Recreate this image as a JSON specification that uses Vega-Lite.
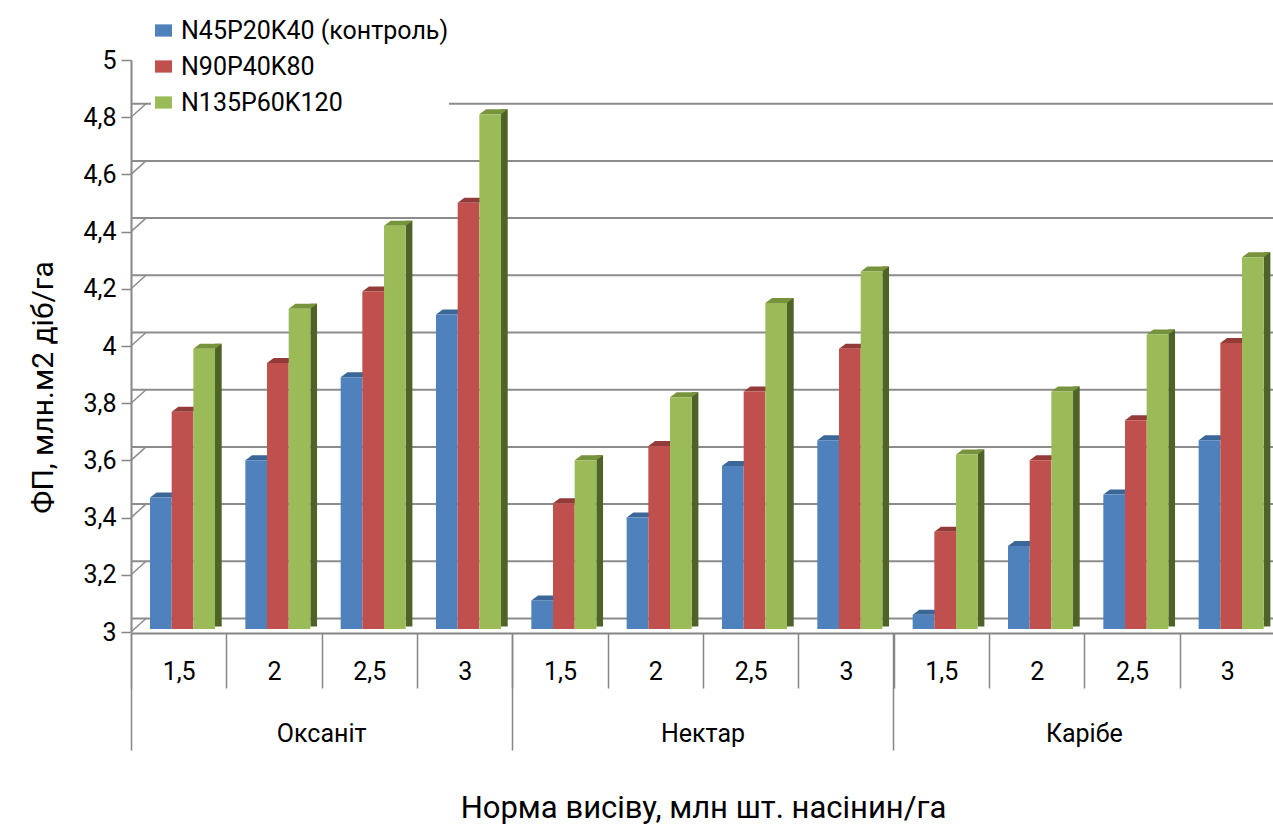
{
  "$schema": "https://vega.github.io/schema/vega-lite/v6.json",
  "width": 1144,
  "height": 572,
  "autosize": {"type": "none"},
  "padding": {"left": 131, "top": 60, "right": 0, "bottom": 207},
  "background": "white",
  "datasets": {
    "fp": [
      {"variety": "Оксаніт", "rate": "1,5", "cell": "Оксаніт|1,5", "series": "N45P20K40 (контроль)", "value": 3.46},
      {"variety": "Оксаніт", "rate": "1,5", "cell": "Оксаніт|1,5", "series": "N90P40K80", "value": 3.76},
      {"variety": "Оксаніт", "rate": "1,5", "cell": "Оксаніт|1,5", "series": "N135P60K120", "value": 3.98},
      {"variety": "Оксаніт", "rate": "2", "cell": "Оксаніт|2", "series": "N45P20K40 (контроль)", "value": 3.59},
      {"variety": "Оксаніт", "rate": "2", "cell": "Оксаніт|2", "series": "N90P40K80", "value": 3.93},
      {"variety": "Оксаніт", "rate": "2", "cell": "Оксаніт|2", "series": "N135P60K120", "value": 4.12},
      {"variety": "Оксаніт", "rate": "2,5", "cell": "Оксаніт|2,5", "series": "N45P20K40 (контроль)", "value": 3.88},
      {"variety": "Оксаніт", "rate": "2,5", "cell": "Оксаніт|2,5", "series": "N90P40K80", "value": 4.18},
      {"variety": "Оксаніт", "rate": "2,5", "cell": "Оксаніт|2,5", "series": "N135P60K120", "value": 4.41},
      {"variety": "Оксаніт", "rate": "3", "cell": "Оксаніт|3", "series": "N45P20K40 (контроль)", "value": 4.10},
      {"variety": "Оксаніт", "rate": "3", "cell": "Оксаніт|3", "series": "N90P40K80", "value": 4.49},
      {"variety": "Оксаніт", "rate": "3", "cell": "Оксаніт|3", "series": "N135P60K120", "value": 4.80},
      {"variety": "Нектар", "rate": "1,5", "cell": "Нектар|1,5", "series": "N45P20K40 (контроль)", "value": 3.10},
      {"variety": "Нектар", "rate": "1,5", "cell": "Нектар|1,5", "series": "N90P40K80", "value": 3.44},
      {"variety": "Нектар", "rate": "1,5", "cell": "Нектар|1,5", "series": "N135P60K120", "value": 3.59},
      {"variety": "Нектар", "rate": "2", "cell": "Нектар|2", "series": "N45P20K40 (контроль)", "value": 3.39},
      {"variety": "Нектар", "rate": "2", "cell": "Нектар|2", "series": "N90P40K80", "value": 3.64},
      {"variety": "Нектар", "rate": "2", "cell": "Нектар|2", "series": "N135P60K120", "value": 3.81},
      {"variety": "Нектар", "rate": "2,5", "cell": "Нектар|2,5", "series": "N45P20K40 (контроль)", "value": 3.57},
      {"variety": "Нектар", "rate": "2,5", "cell": "Нектар|2,5", "series": "N90P40K80", "value": 3.83},
      {"variety": "Нектар", "rate": "2,5", "cell": "Нектар|2,5", "series": "N135P60K120", "value": 4.14},
      {"variety": "Нектар", "rate": "3", "cell": "Нектар|3", "series": "N45P20K40 (контроль)", "value": 3.66},
      {"variety": "Нектар", "rate": "3", "cell": "Нектар|3", "series": "N90P40K80", "value": 3.98},
      {"variety": "Нектар", "rate": "3", "cell": "Нектар|3", "series": "N135P60K120", "value": 4.25},
      {"variety": "Карібе", "rate": "1,5", "cell": "Карібе|1,5", "series": "N45P20K40 (контроль)", "value": 3.05},
      {"variety": "Карібе", "rate": "1,5", "cell": "Карібе|1,5", "series": "N90P40K80", "value": 3.34},
      {"variety": "Карібе", "rate": "1,5", "cell": "Карібе|1,5", "series": "N135P60K120", "value": 3.61},
      {"variety": "Карібе", "rate": "2", "cell": "Карібе|2", "series": "N45P20K40 (контроль)", "value": 3.29},
      {"variety": "Карібе", "rate": "2", "cell": "Карібе|2", "series": "N90P40K80", "value": 3.59},
      {"variety": "Карібе", "rate": "2", "cell": "Карібе|2", "series": "N135P60K120", "value": 3.83},
      {"variety": "Карібе", "rate": "2,5", "cell": "Карібе|2,5", "series": "N45P20K40 (контроль)", "value": 3.47},
      {"variety": "Карібе", "rate": "2,5", "cell": "Карібе|2,5", "series": "N90P40K80", "value": 3.73},
      {"variety": "Карібе", "rate": "2,5", "cell": "Карібе|2,5", "series": "N135P60K120", "value": 4.03},
      {"variety": "Карібе", "rate": "3", "cell": "Карібе|3", "series": "N45P20K40 (контроль)", "value": 3.66},
      {"variety": "Карібе", "rate": "3", "cell": "Карібе|3", "series": "N90P40K80", "value": 4.00},
      {"variety": "Карібе", "rate": "3", "cell": "Карібе|3", "series": "N135P60K120", "value": 4.30}
    ],
    "levels": [
      {"level": 3}, {"level": 3.2}, {"level": 3.4}, {"level": 3.6}, {"level": 3.8},
      {"level": 4}, {"level": 4.2}, {"level": 4.4}, {"level": 4.6}, {"level": 4.8}
    ]
  },
  "config": {
    "font": "Roboto",
    "view": {"stroke": null},
    "axis": {
      "labelFont": "Roboto",
      "labelFontSize": 25,
      "labelColor": "#000000",
      "titleFont": "Roboto",
      "titleFontWeight": "normal",
      "titleColor": "#000000",
      "domainColor": "#868686",
      "tickColor": "#868686",
      "domainWidth": 2,
      "tickWidth": 1.5,
      "grid": false
    }
  },
  "resolve": {"axis": {"x": "independent", "y": "independent"}, "scale": {"fill": "independent"}},
  "layer": [
    {
      "data": {"name": "levels"},
      "mark": {"type": "rule", "color": "#8C8C8C", "strokeWidth": 2, "xOffset": 15, "x2Offset": 15, "yOffset": -13.5},
      "encoding": {
        "y": {
          "field": "level",
          "type": "quantitative",
          "scale": {"domain": [3, 5], "nice": false, "zero": false},
          "axis": {
            "orient": "left",
            "values": [3, 3.2, 3.4, 3.6, 3.8, 4, 4.2, 4.4, 4.6, 4.8, 5],
            "labelExpr": "replace(toString(datum.value), '.', ',')",
            "tickSize": 10,
            "labelPadding": 5,
            "title": "ФП, млн.м2 діб/га",
            "titleFontSize": 30,
            "titleAngle": -90,
            "titleX": -88,
            "titleY": 327,
            "titleAlign": "center",
            "titleBaseline": "middle"
          }
        }
      }
    },
    {
      "data": {"name": "levels"},
      "mark": {"type": "rule", "color": "#8C8C8C", "strokeWidth": 1.5, "x2Offset": 15, "y2Offset": -13.5},
      "encoding": {
        "x": {
          "datum": "Оксаніт|1,5",
          "type": "nominal",
          "bandPosition": 0,
          "scale": {
            "domain": ["Оксаніт|1,5", "Оксаніт|2", "Оксаніт|2,5", "Оксаніт|3", "Нектар|1,5", "Нектар|2", "Нектар|2,5", "Нектар|3", "Карібе|1,5", "Карібе|2", "Карібе|2,5", "Карібе|3"],
            "paddingInner": 0,
            "paddingOuter": 0
          },
          "axis": {
            "orient": "bottom",
            "offset": 1,
            "values": ["Оксаніт|1,5", "Нектар|1,5", "Карібе|1,5"],
            "bandPosition": 0,
            "tickSize": 117,
            "domain": false,
            "labelExpr": "split(datum.label, '|')[0]",
            "labelOffset": 143,
            "labelPadding": -17,
            "labelBaseline": "middle",
            "labelAngle": 0,
            "labelOverlap": false,
            "labelBound": false,
            "labelFlush": false,
            "title": null
          }
        },
        "x2": {"datum": "Оксаніт|1,5", "bandPosition": 0},
        "y": {"field": "level", "type": "quantitative", "axis": null},
        "y2": {"field": "level"}
      }
    },
    {
      "data": {"name": "fp"},
      "transform": [{"filter": "datum.series === 'N135P60K120'"}],
      "mark": {"type": "bar", "color": "#4F6228", "width": 6.7, "xOffset": 39.7, "yOffset": -8, "y2Offset": -5.5},
      "encoding": {
        "x": {"field": "cell", "type": "nominal", "axis": null},
        "y": {"field": "value", "type": "quantitative", "axis": null},
        "y2": {"datum": 3}
      }
    },
    {
      "data": {"name": "fp"},
      "mark": {
        "type": "point",
        "shape": "M-0.7227,0L0.7227,0L1.1694,-0.3333L-0.276,-0.3333Z",
        "size": 900,
        "filled": true,
        "opacity": 1,
        "strokeWidth": 0,
        "yOffset": -3
      },
      "encoding": {
        "x": {"field": "cell", "type": "nominal", "axis": null},
        "xOffset": {
          "field": "series",
          "type": "nominal",
          "sort": ["N45P20K40 (контроль)", "N90P40K80", "N135P60K120"],
          "scale": {"paddingInner": 0, "paddingOuter": 0.699, "align": 0.627}
        },
        "y": {"field": "value", "type": "quantitative", "axis": null},
        "fill": {
          "field": "series",
          "type": "nominal",
          "scale": {
            "domain": ["N45P20K40 (контроль)", "N90P40K80", "N135P60K120"],
            "range": ["#3A6798", "#923B39", "#77933C"]
          },
          "legend": null
        }
      }
    },
    {
      "data": {"name": "fp"},
      "mark": {"type": "bar", "yOffset": -3, "y2Offset": -3},
      "encoding": {
        "x": {
          "field": "cell",
          "type": "nominal",
          "axis": {
            "orient": "bottom",
            "offset": 1,
            "tickBand": "extent",
            "tickSize": 55,
            "labelExpr": "split(datum.label, '|')[1]",
            "labelPadding": -17,
            "labelBaseline": "middle",
            "labelAngle": 0,
            "labelOverlap": false,
            "labelBound": false,
            "labelFlush": false,
            "title": "Норма висіву, млн шт. насінин/га",
            "titleFontSize": 31,
            "titleX": 572,
            "titleY": 175,
            "titleAlign": "center",
            "titleBaseline": "middle"
          }
        },
        "xOffset": {
          "field": "series",
          "type": "nominal",
          "sort": ["N45P20K40 (контроль)", "N90P40K80", "N135P60K120"],
          "scale": {"paddingInner": 0, "paddingOuter": 0.699, "align": 0.627}
        },
        "y": {"field": "value", "type": "quantitative", "axis": null},
        "y2": {"datum": 3},
        "color": {
          "field": "series",
          "type": "nominal",
          "scale": {
            "domain": ["N45P20K40 (контроль)", "N90P40K80", "N135P60K120"],
            "range": ["#4F81BD", "#C0504D", "#9BBB59"]
          },
          "legend": {
            "orient": "none",
            "legendX": 20,
            "legendY": -42,
            "title": null,
            "symbolType": "M-1,-0.72H1V0.72H-1Z",
            "symbolSize": 289,
            "symbolStrokeWidth": 0,
            "labelFont": "Roboto",
            "labelFontSize": 25,
            "labelColor": "#000000",
            "labelLimit": 500,
            "labelOffset": 5,
            "rowPadding": 10,
            "padding": 0,
            "fillColor": "white"
          }
        }
      }
    }
  ]
}
